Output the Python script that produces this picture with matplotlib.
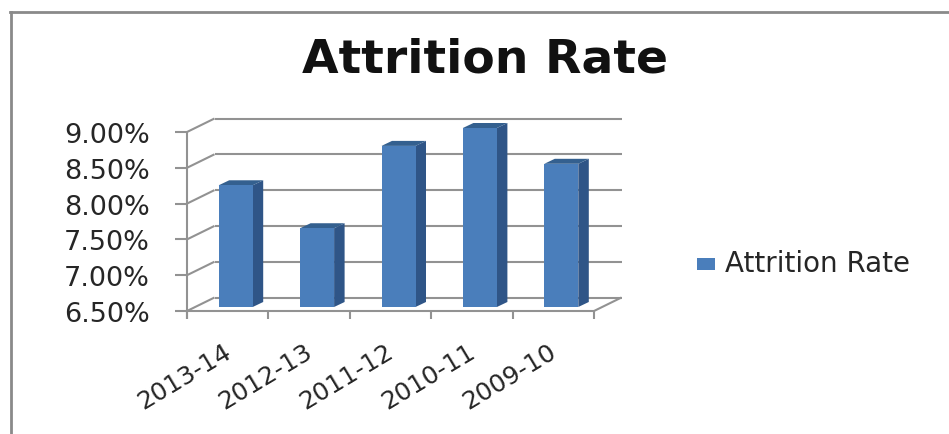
import matplotlib
matplotlib.use("Agg")
import matplotlib.pyplot as plt
from matplotlib.lines import Line2D
from matplotlib.patches import Polygon

periods = ["2013-14", "2012-13", "2011-12", "2010-11", "2009-10"]
attrition = [8.20, 7.60, 8.75, 9.00, 8.50]
y_ticks = [6.5, 7.0, 7.5, 8.0, 8.5, 9.0]
y_labels = ["6.50%", "7.00%", "7.50%", "8.00%", "8.50%", "9.00%"]

W, H = 949, 435
FRONT = "#4a7ebb"
SIDE = "#2f5587"
TOP = "#34608f"
GRID = "#929292"
TEXT = "#262626"
FONT = "DejaVu Sans"

fig = plt.figure(figsize=(W / 100, H / 100), dpi=100, facecolor="white")

# Front plane of the pseudo-3D box, given in pixels
left, right, top, bottom = 187, 594, 133, 312
ax = fig.add_axes([left / W, 1 - bottom / H, (right - left) / W, (bottom - top) / H])
ax.set_xlim(0, len(periods))
ax.set_ylim(y_ticks[0], y_ticks[-1])
ax.patch.set_visible(False)
for s in ax.spines.values():
    s.set_visible(False)
ax.set_xticks([])
ax.set_yticks([])

px_x = len(periods) / (right - left)
px_y = (y_ticks[-1] - y_ticks[0]) / (bottom - top)
depth_x, depth_y = 27.5 * px_x, 13.5 * px_y
line_kw = dict(color=GRID, lw=1.5, clip_on=False, solid_capstyle="butt")

# Back wall gridlines and the slanted side-wall lines
for v in y_ticks:
    ax.plot([0, depth_x], [v, v + depth_y], **line_kw)
    ax.plot([depth_x, len(periods) + depth_x], [v + depth_y, v + depth_y], **line_kw)
    ax.plot([-12 * px_x, 0], [v, v], **line_kw)

# Axis lines, floor edges and category ticks
ax.plot([0, 0], [y_ticks[0] - 8 * px_y, y_ticks[-1]], **line_kw)
ax.plot([0, len(periods)], [y_ticks[0]] * 2, **line_kw)
ax.plot([len(periods), len(periods) + depth_x], [y_ticks[0], y_ticks[0] + depth_y], **line_kw)
for i in range(len(periods) + 1):
    ax.plot([i, i], [y_ticks[0] - 8 * px_y, y_ticks[0]], **line_kw)

# Bars: front face lifted off the floor, with side and top faces for depth
bar_w = 34 * px_x
shift_x, shift_y = 8 * px_x, 4 * px_y
off_x, off_y = 10.5 * px_x, 5 * px_y
base = y_ticks[0]
for i, v in enumerate(attrition):
    x0 = i + 0.5 - bar_w / 2 + shift_x
    x1 = x0 + bar_w
    y0 = base + shift_y
    y1 = v + shift_y
    ax.add_patch(Polygon([(x1, y0), (x1 + off_x, y0 + off_y), (x1 + off_x, y1 + off_y), (x1, y1)],
                         closed=True, fc=SIDE, ec="none", zorder=3, clip_on=False))
    ax.add_patch(Polygon([(x0, y1), (x0 + off_x, y1 + off_y), (x1 + off_x, y1 + off_y), (x1, y1)],
                         closed=True, fc=TOP, ec="none", zorder=3, clip_on=False))
    ax.bar(i + 0.5 + shift_x, y1 - y0, width=bar_w, bottom=y0, color=FRONT, zorder=4, clip_on=False)

# Value axis labels
for v, lab in zip(y_ticks, y_labels):
    ax.annotate(lab, (0, v), xytext=(-37, -3), textcoords="offset pixels", ha="right", va="center",
                fontsize=19.5, family=FONT, color=TEXT, annotation_clip=False)

# Category labels, slanted
for i, lab in enumerate(periods):
    ax.annotate(lab, (i + 0.5, y_ticks[0]), xytext=(-5, -28), textcoords="offset pixels",
                ha="right", va="top", rotation=31, rotation_mode="anchor",
                fontsize=18, family=FONT, color=TEXT, annotation_clip=False)

fig.text(485 / W, 1 - 60 / H, "Attrition Rate", ha="center", va="center",
         fontsize=34, fontweight="bold", family=FONT, color="#111111")

# Legend entry
fig.add_artist(Polygon([(697 / W, 1 - 259 / H), (715 / W, 1 - 259 / H), (715 / W, 1 - 271 / H), (697 / W, 1 - 271 / H)],
                       closed=True, transform=fig.transFigure, fc=FRONT, ec="none"))
fig.text(725 / W, 1 - 264 / H, "Attrition Rate", ha="left", va="center",
         fontsize=20, family=FONT, color=TEXT)

# Outer chart frame
frame_kw = dict(transform=fig.transFigure, color="#8a8a8a", lw=2)
fig.add_artist(Line2D([10.5 / W, 10.5 / W], [0, 1 - 13 / H], **frame_kw))
fig.add_artist(Line2D([10 / W, 1], [1 - 13 / H, 1 - 13 / H], **frame_kw))

fig.savefig("out.png", dpi=100)
